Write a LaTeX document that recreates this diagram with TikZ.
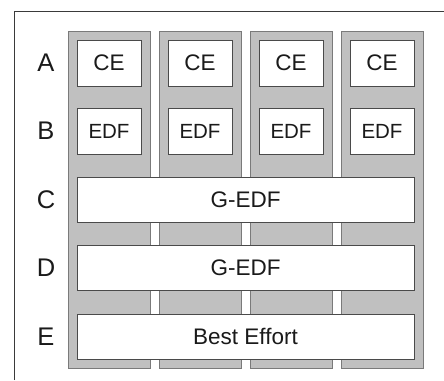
\documentclass[tikz,border=0pt]{standalone}
\usepackage{fontspec}
\setmainfont{Liberation Sans}
\definecolor{colfill}{HTML}{C0C0C0}
\definecolor{colborder}{HTML}{7A7A7A}
\definecolor{boxborder}{HTML}{4A4A4A}
\definecolor{framecol}{HTML}{3A3A3A}
\definecolor{txt}{HTML}{1A1A1A}
\begin{document}
\begin{tikzpicture}[x=1pt,y=-1pt,
  col/.style={draw=colborder, fill=colfill, line width=1pt},
  box/.style={draw=boxborder, fill=white, line width=1pt, inner sep=0pt, text=txt},
  small/.style={box, minimum width=64pt, minimum height=46pt},
  wide/.style={box, minimum width=337pt, minimum height=45pt, font=\fontsize{22.5}{26}\selectfont},
  lab/.style={text=txt, font=\fontsize{25.5}{28}\selectfont, inner sep=0pt}]
\useasboundingbox[fill=white] (0,0) rectangle (444,380);
\draw[framecol, line width=1pt] (14,380) -- (14,11) -- (444,11);
\foreach \i in {0,1,2,3}{
  \pgfmathsetmacro{\xa}{68+91*\i}
  \pgfmathsetmacro{\xb}{150+91*\i}
  \pgfmathsetmacro{\xc}{109+91*\i}
  \draw[col] (\xa,31) rectangle (\xb,368);
  \node[small, font=\fontsize{22.5}{26}\selectfont] (ce\i) at (\xc,63) {CE};
  \node[small, font=\fontsize{20.5}{24}\selectfont] (edf\i) at (\xc,131) {EDF};
}
\node[wide] (gedf1) at (245.5,199.5) {G-EDF};
\node[wide] (gedf2) at (245.5,267.5) {G-EDF};
\node[wide] (be) at (245.5,336.5) {Best Effort};
\node[lab] (la) at (46,63) {A};
\node[lab] (lb) at (46,131) {B};
\node[lab] (lc) at (46,199.5) {C};
\node[lab] (ld) at (46,267.5) {D};
\node[lab] (le) at (46,336.5) {E};
\end{tikzpicture}
\end{document}
